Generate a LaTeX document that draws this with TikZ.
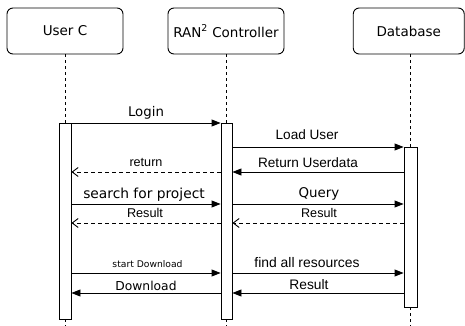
\documentclass[tikz,border=0pt]{standalone}
\usepackage{fontspec}
\newfontfamily\dejavu{DejaVu Sans}
\newfontfamily\arialish{Liberation Sans}
\usetikzlibrary{arrows.meta}
\usetikzlibrary{positioning}
\tikzset{actor/.style = {draw, rounded corners = 6pt, minimum width = 116pt, minimum height = 46pt, inner sep = 0, font = \dejavu\fontsize{13.5}{16}\selectfont}}
\tikzset{bar/.style = {draw, fill = white, inner sep = 0, minimum width = 12pt}}
\tikzset{life/.style = {dash pattern = on 3pt off 3pt}}
\tikzset{call/.style = {-{Triangle[length = 9pt, width = 7pt]}}}
\tikzset{reply/.style = {dash pattern = on 4pt off 3pt, -{Straight Barb[length = 6pt, width = 9pt]}}}
\tikzset{lbl/.style = {anchor = base, inner sep = 0, font = \arialish\fontsize{#1}{16}\selectfont}, lbl/.default = 13.6}
\tikzset{dlbl/.style = {anchor = base, inner sep = 0, font = \dejavu\fontsize{#1}{16}\selectfont}, dlbl/.default = 13.5}

\begin{document}
\begin{tikzpicture}[x = 1pt, y = -1pt, line width = 0.9pt]
      \useasboundingbox (0, 0) rectangle (465, 326);

      % participants
      \node [actor] (user) at (65, 31) {User C};
      \node [actor] (ctrl) at (226, 31) {RAN\textsuperscript{2} Controller};
      \node [actor, minimum width = 111pt] (db) at (408.75, 31) {Database};

      % activation bars
      \node [bar, minimum height = 196pt] (ubar) at (65, 221) {};
      \node [bar, minimum width = 11pt, minimum height = 196pt] (cbar) at (226.5, 221) {};
      \node [bar, minimum width = 13pt, minimum height = 160pt] (dbar) at (410.5, 227) {};

      % lifelines
      \coordinate (bottom) at (0, 326);
      \draw [life] (user.south) -- (ubar.north);
      \draw [life] (ctrl.south) -- (ctrl.south |- cbar.north);
      \draw [life] (db.south -| dbar.north) -- (dbar.north);
      \draw [life] (ubar.south) -- (ubar.south |- bottom);
      \draw [life] (ctrl.south |- cbar.south) -- (ctrl.south |- bottom);
      \draw [life] (dbar.south) -- (dbar.south |- bottom);

      % message rows
      \coordinate (login) at (0, 123);
      \coordinate (load) at (0, 147);
      \coordinate (ret) at (0, 172);
      \coordinate (search) at (0, 204);
      \coordinate (result) at (0, 223);
      \coordinate (start) at (0, 273);
      \coordinate (down) at (0, 293);

      \draw [call] (ubar.east |- login) -- (cbar.west |- login);
      \draw [call] (cbar.east |- load) -- (dbar.west |- load);
      \draw [call] (dbar.west |- ret) -- (cbar.east |- ret);
      \draw [reply] (cbar.west |- ret) -- (ubar.east |- ret);
      \draw [call] (ubar.east |- search) -- (cbar.west |- search);
      \draw [call] (cbar.east |- search) -- (dbar.west |- search);
      \draw [reply] (cbar.west |- result) -- (ubar.east |- result);
      \draw [reply] (dbar.west |- result) -- (cbar.east |- result);
      \draw [call] (ubar.east |- start) -- (cbar.west |- start);
      \draw [call] (cbar.east |- start) -- (dbar.west |- start);
      \draw [call] (cbar.west |- down) -- (ubar.east |- down);
      \draw [call] (dbar.west |- down) -- (cbar.east |- down);

      % labels
      \node [dlbl = 13.3] (tlogin) at (146, 117) {Login};
      \node [lbl] (tload) at (307, 139) {Load User};
      \node [lbl] (tdata) at (308, 167) {Return Userdata};
      \node [lbl = 12.6] (tret) at (146, 166) {return};
      \node [dlbl = 13.8] (tsearch) at (144, 198) {search for project};
      \node [dlbl = 13.4] (tquery) at (319, 197) {Query};
      \node [lbl = 12.7] (tres1) at (145, 217) {Result};
      \node [lbl = 12.6] (tres2) at (319, 217) {Result};
      \node [dlbl = 9.2] (tstart) at (147.5, 267) {start Download};
      \node [lbl = 13.9] (tfind) at (307, 267) {find all resources};
      \node [dlbl = 12.3] (tdown) at (146, 290) {Download};
      \node [lbl = 13.8] (tres3) at (309, 289) {Result};
    \end{tikzpicture}
\end{document}
